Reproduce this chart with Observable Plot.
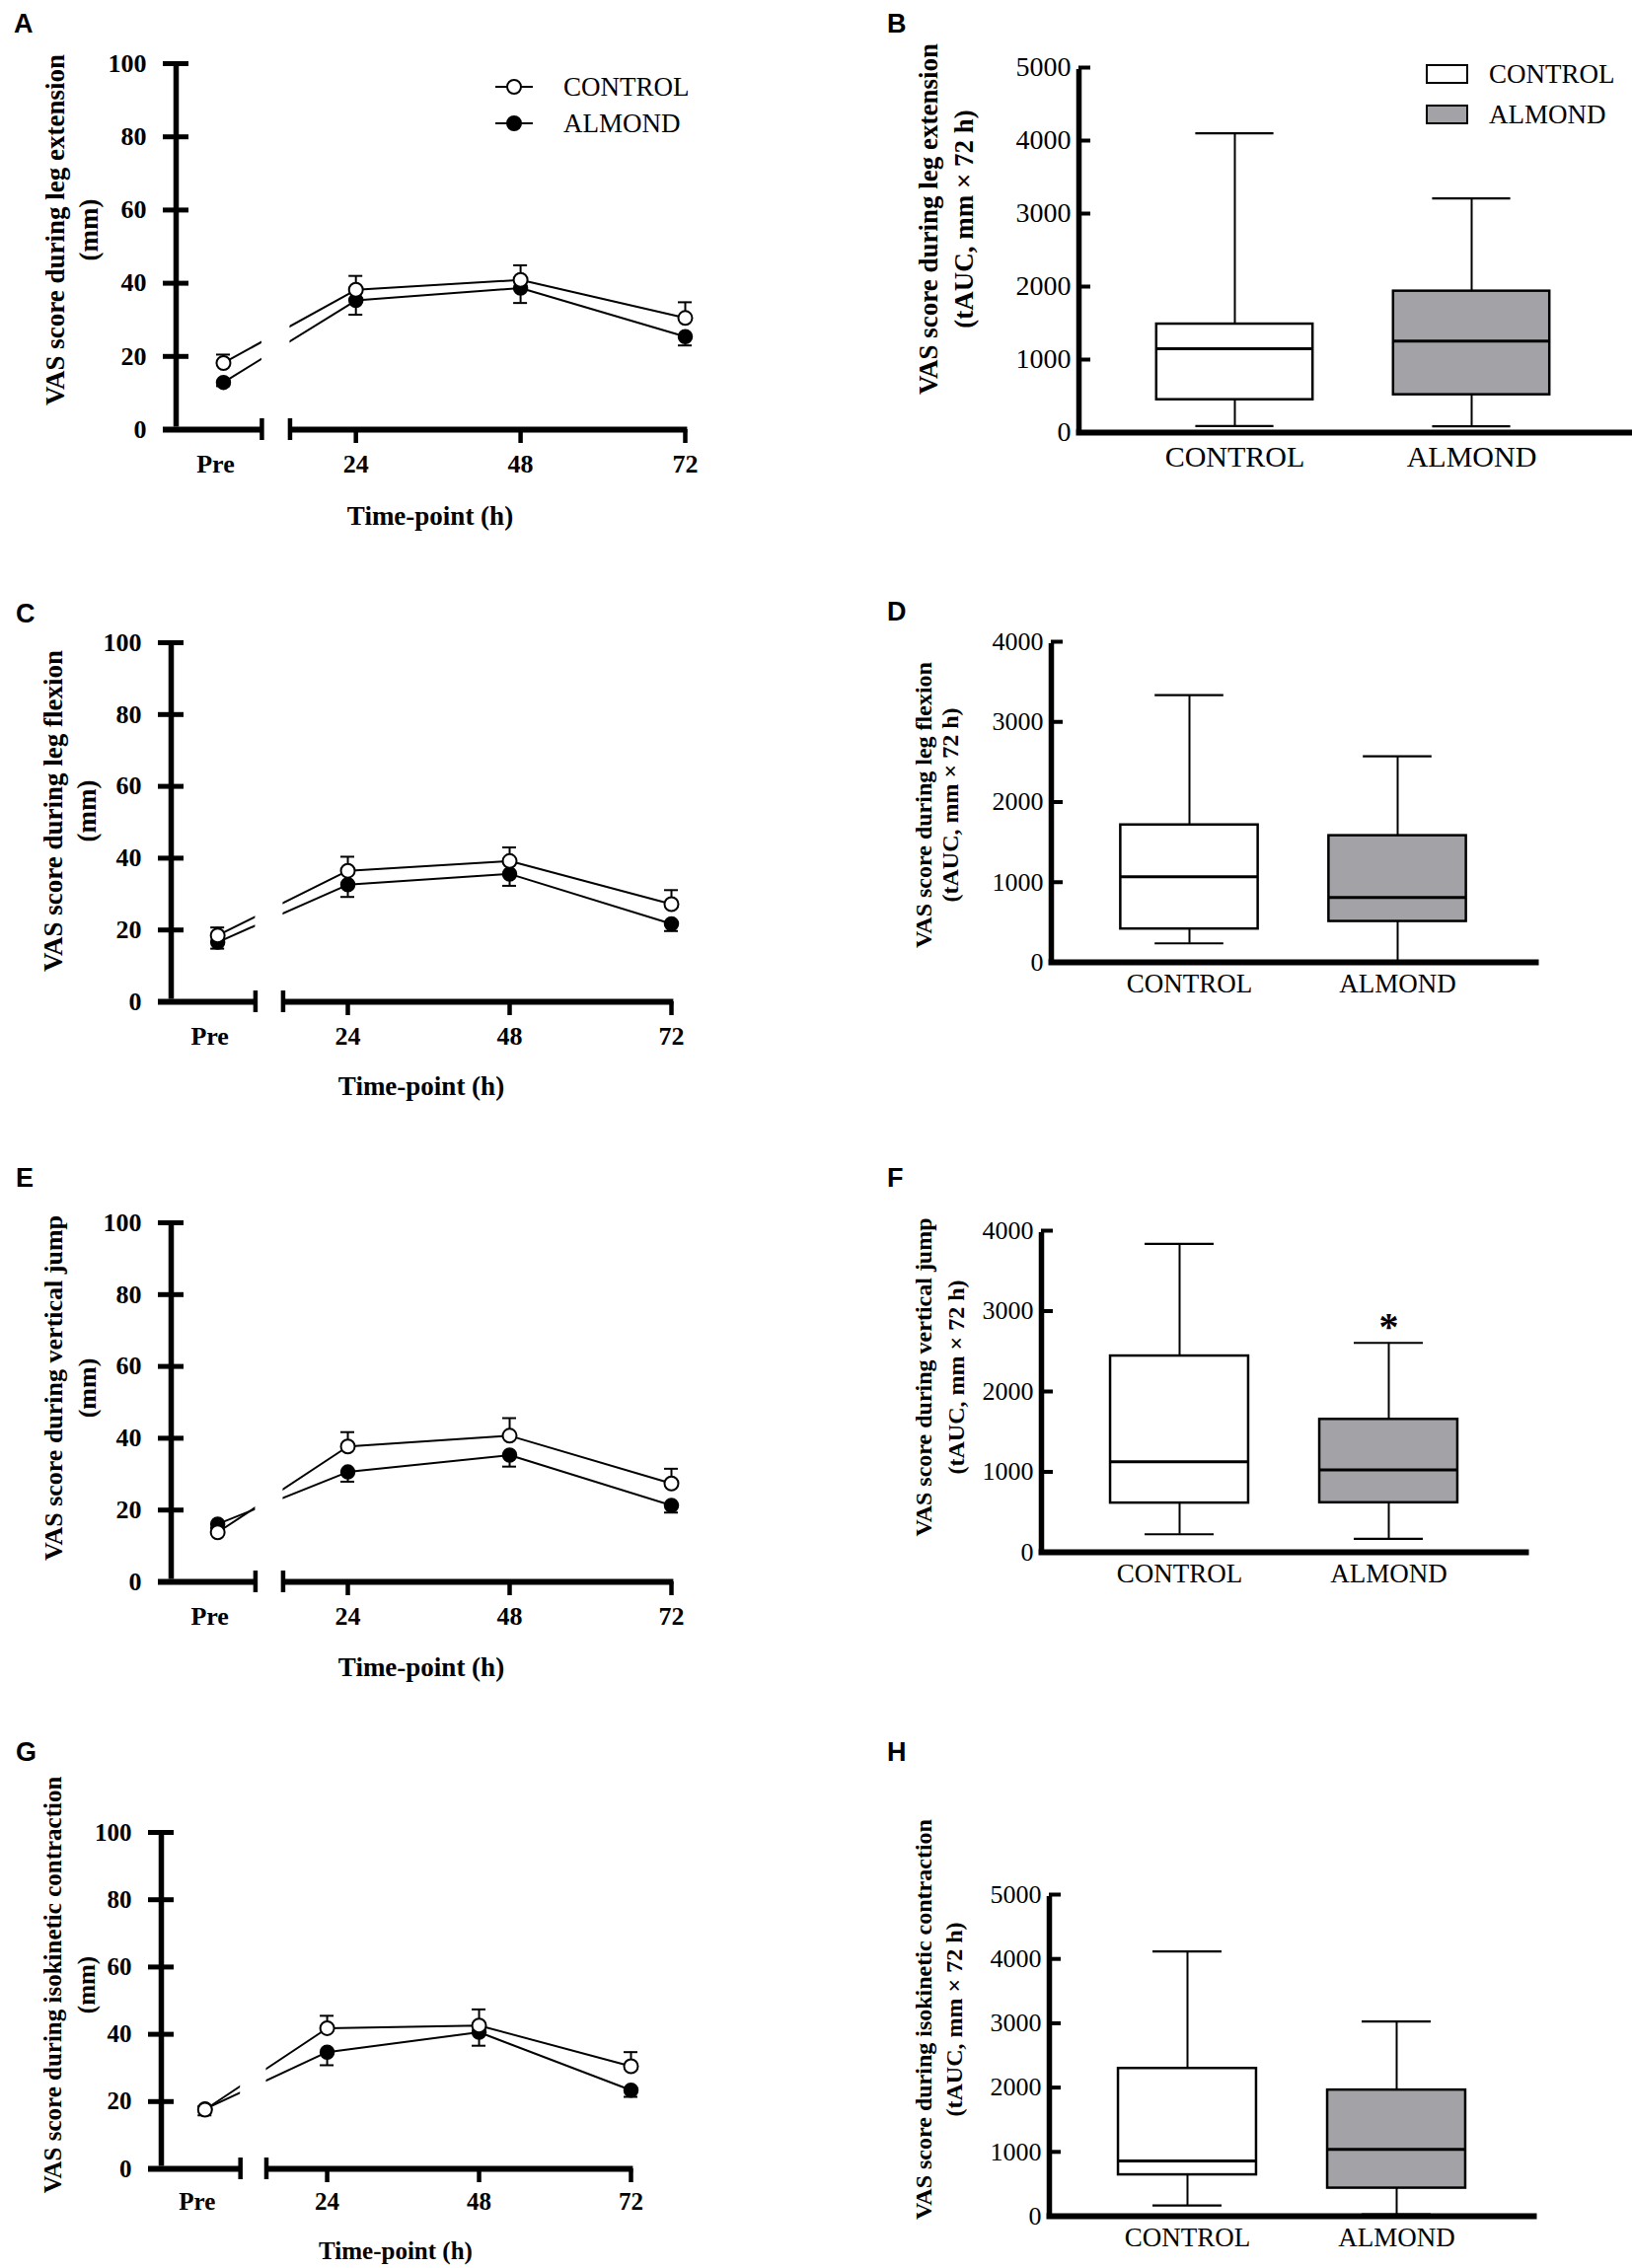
<!DOCTYPE html>
<html><head><meta charset="utf-8">
<script src="https://cdn.jsdelivr.net/npm/d3@7"></script>
<script src="https://cdn.jsdelivr.net/npm/@observablehq/plot@0.6"></script>
<style>
body{margin:0;background:#fff;}
#fig{position:relative;width:1654px;height:2299px;background:#fff;overflow:hidden;}
.panel{position:absolute;}
#overlay{position:absolute;left:0;top:0;pointer-events:none;}
</style></head><body><div id="fig"></div>
<script>
// ---------------- data ----------------
const timepoints = ["Pre", "24", "48", "72"];
const groups = ["CONTROL", "ALMOND"];
const lineYTicks = [0, 20, 40, 60, 80, 100];

// A: leg extension (mean, SEM)
const aControlMean = [18.2, 38.2, 40.9, 30.5];
const aControlErr  = [2.3, 3.8, 4.0, 4.3];
const aAlmondMean  = [12.9, 35.3, 38.7, 25.4];
const aAlmondErr   = [1.0, 3.9, 4.1, 2.4];
// C: leg flexion
const cControlMean = [18.5, 36.5, 39.2, 27.2];
const cControlErr  = [2.2, 3.9, 3.8, 3.9];
const cAlmondMean  = [16.6, 32.6, 35.6, 21.7];
const cAlmondErr   = [1.8, 3.4, 3.3, 2.0];
// E: vertical jump
const eControlMean = [13.8, 37.7, 40.7, 27.4];
const eControlErr  = [1.2, 4.0, 4.9, 4.1];
const eAlmondMean  = [16.1, 30.6, 35.3, 21.3];
const eAlmondErr   = [1.0, 2.7, 3.2, 2.0];
// G: isokinetic contraction
const gControlMean = [17.6, 41.8, 42.6, 30.5];
const gControlErr  = [1.0, 3.7, 4.8, 4.2];
const gAlmondMean  = [17.8, 34.7, 40.6, 23.4];
const gAlmondErr   = [1.9, 3.9, 4.0, 2.0];

// tAUC box plots: [min, Q1, median, Q3, max]
const bControl = [90, 450, 1149, 1486, 4099];
const bAlmond  = [86, 518, 1252, 1937, 3207];
const dControl = [237, 416, 1069, 1714, 3335];
const dAlmond  = [10, 510, 808, 1580, 2571];
const fControl = [224, 612, 1127, 2441, 3837];
const fAlmond  = [167, 616, 1024, 1653, 2604];
const hControl = [168, 643, 858, 2297, 4117];
const hAlmond  = [30, 436, 1041, 1961, 3028];
const ticks5000 = [0, 1000, 2000, 3000, 4000, 5000];
const ticks4000 = [0, 1000, 2000, 3000, 4000];
const fSignificance = ["", "*"];
const fSignificanceY = [null, 2910];

// ---------------- drawing ----------------
const SERIF = "'Liberation Serif','Times New Roman',Times,serif";
const SANS = "'Liberation Sans',Arial,Helvetica,sans-serif";
const fig = document.getElementById("fig");

function place(node, left, top) {
  const d = document.createElement("div");
  d.className = "panel";
  d.style.left = left + "px"; d.style.top = top + "px";
  d.appendChild(node); fig.appendChild(d);
}

function linePanel(cfg) {
  const X_AXIS = -2.2, PRE_X = 4.7, BREAK = [10.3, 14.4];
  const tx = t => t === "Pre" ? PRE_X : +t;
  const mk = (m, e) => timepoints.map((t, i) => ({x: tx(t), m: m[i], e: e[i]}));
  const ctrl = mk(cfg.ctrlMean, cfg.ctrlErr);
  const alm = mk(cfg.almMean, cfg.almErr);
  const fs = cfg.fontSize;
  const lblStyle = {fontSize: fs, fontWeight: "bold", fontFamily: SERIF, fill: "black"};
  return Plot.plot({
    width: 760, height: cfg.height, margin: 0,
    x: {type: "linear", domain: [X_AXIS, 72], range: cfg.xRange, axis: null},
    y: {type: "linear", domain: [0, 100], range: [cfg.y0, cfg.y100], axis: null},
    style: {background: "transparent", overflow: "visible"},
    marks: [
      Plot.line(alm, {x: "x", y: "m", stroke: "black", strokeWidth: 2}),
      Plot.ruleX(alm, {x: "x", y1: "m", y2: d => d.m - d.e, strokeWidth: 2}),
      Plot.ruleY(alm, {y: d => d.m - d.e, x1: "x", x2: "x", insetLeft: -7, insetRight: -7, strokeWidth: 2}),
      Plot.line(ctrl, {x: "x", y: "m", stroke: "black", strokeWidth: 2}),
      Plot.ruleX(ctrl, {x: "x", y1: "m", y2: d => d.m + d.e, strokeWidth: 2}),
      Plot.ruleY(ctrl, {y: d => d.m + d.e, x1: "x", x2: "x", insetLeft: -7, insetRight: -7, strokeWidth: 2}),
      Plot.rect([BREAK], {x1: d => d[0], x2: d => d[1], y1: () => 0, y2: () => 100, fill: "white"}),
      Plot.dot(alm, {x: "x", y: "m", r: 7, fill: "black", stroke: "black", strokeWidth: 1.5}),
      Plot.dot(ctrl, {x: "x", y: "m", r: 7, fill: "white", stroke: "black", strokeWidth: 2}),
      // axes
      Plot.ruleX([X_AXIS], {x: d => d, y1: () => 0, y2: () => 100, strokeWidth: 5.5, insetTop: -2.5, insetBottom: -2.5}),
      Plot.ruleY(lineYTicks, {y: d => d, x1: () => X_AXIS, x2: () => X_AXIS, insetLeft: -13, insetRight: -13, strokeWidth: 5}),
      Plot.ruleY([0], {y: d => d, x1: () => X_AXIS, x2: () => BREAK[0], insetLeft: -6.5, insetRight: -6.5, dx: -6.5, strokeWidth: 6}),
      Plot.ruleY([0], {y: d => d, x1: () => BREAK[1], x2: () => 72, insetLeft: -1.2, insetRight: -1.2, dx: 1.2, strokeWidth: 6}),
      Plot.ruleX(BREAK, {x: d => d, y1: () => 0, y2: () => 0, insetTop: -11, insetBottom: -11, strokeWidth: 4.5}),
      Plot.ruleX([24, 48, 72], {x: d => d, y1: () => 0, y2: () => 0, insetTop: -7, insetBottom: -7, dy: 7, strokeWidth: 4.5}),
      Plot.text(lineYTicks, {x: () => X_AXIS, y: d => d, text: d => String(d), dx: -30, textAnchor: "end", ...lblStyle}),
      Plot.text(timepoints.filter(t => t === "Pre"), {x: tx, y: () => 0, text: d => d, dy: cfg.labelDy, dx: -8, ...lblStyle}),
      Plot.text(timepoints.filter(t => t !== "Pre"), {x: tx, y: () => 0, text: d => d, dy: cfg.labelDy, ...lblStyle})
    ]
  });
}

function boxPanel(cfg) {
  const toX = px => 1 + (px - cfg.c1) / cfg.step;
  const lo = toX(cfg.axisX), hi = toX(cfg.xEnd);
  const BOX = 0.33, CAP = 0.165;
  const rows = [cfg.control, cfg.almond].map((v, i) => ({
    g: groups[i], i: i + 1, min: v[0], q1: v[1], med: v[2], q3: v[3], max: v[4],
    fill: i ? "#a3a3a7" : "white",
    star: cfg.star ? cfg.star[i] : "", starY: cfg.starY ? cfg.starY[i] : null
  }));
  const marks = [
    Plot.ruleX(rows, {x: "i", y1: "min", y2: "q1", strokeWidth: 2}),
    Plot.ruleX(rows, {x: "i", y1: "q3", y2: "max", strokeWidth: 2}),
    Plot.ruleY(rows, {y: "min", x1: d => d.i - CAP, x2: d => d.i + CAP, strokeWidth: 2.2}),
    Plot.ruleY(rows, {y: "max", x1: d => d.i - CAP, x2: d => d.i + CAP, strokeWidth: 2.2}),
    Plot.rect(rows, {x1: d => d.i - BOX, x2: d => d.i + BOX, y1: "q1", y2: "q3", fill: "fill", stroke: "black", strokeWidth: 2.5}),
    Plot.ruleY(rows, {y: "med", x1: d => d.i - BOX, x2: d => d.i + BOX, strokeWidth: 3}),
    Plot.ruleY([0], {y: d => d, x1: () => lo, x2: () => hi, insetLeft: -2.5, insetRight: -2.5, strokeWidth: 6}),
    Plot.ruleX([lo], {x: d => d, y1: () => 0, y2: () => cfg.yMax, insetTop: -2, insetBottom: -2, strokeWidth: 5.5}),
    Plot.ruleY(cfg.ticks, {y: d => d, x1: () => lo, x2: () => lo, insetLeft: -6, insetRight: -6, dx: 6, strokeWidth: 4}),
    Plot.text(cfg.ticks, {x: () => lo, y: d => d, text: d => String(d), dx: -8, textAnchor: "end",
      fontSize: cfg.tickFont, fontFamily: SERIF, fill: "black"}),
    Plot.text(rows, {x: "i", y: () => 0, text: "g", dy: cfg.labelDy, fontSize: cfg.labelFont, fontFamily: SERIF, fill: "black"})
  ];
  if (cfg.star) marks.push(Plot.text(rows.filter(r => r.star), {x: "i", y: "starY", text: "star", dy: 9,
    fontSize: 40, fontWeight: "bold", fontFamily: SERIF, fill: "black"}));
  return Plot.plot({
    width: 794, height: cfg.height, margin: 0,
    x: {type: "linear", domain: [lo, hi], range: [cfg.axisX, cfg.xEnd], axis: null},
    y: {type: "linear", domain: [0, cfg.yMax], range: [cfg.y0, cfg.yTop], axis: null},
    color: {type: "identity"},
    style: {background: "transparent", overflow: "visible"},
    marks
  });
}

// line panels (left column)
place(linePanel({ctrlMean: aControlMean, ctrlErr: aControlErr, almMean: aAlmondMean, almErr: aAlmondErr,
  height: 580, xRange: [178, 694], y0: 435, y100: 64, fontSize: 26, labelDy: 35}), 0, 0);
place(linePanel({ctrlMean: cControlMean, ctrlErr: cControlErr, almMean: cAlmondMean, almErr: cAlmondErr,
  height: 590, xRange: [173, 680], y0: 435, y100: 71, fontSize: 26, labelDy: 35}), 0, 580);
place(linePanel({ctrlMean: eControlMean, ctrlErr: eControlErr, almMean: eAlmondMean, almErr: eAlmondErr,
  height: 590, xRange: [173, 680], y0: 433, y100: 69, fontSize: 26, labelDy: 35}), 0, 1170);
place(linePanel({ctrlMean: gControlMean, ctrlErr: gControlErr, almMean: gAlmondMean, almErr: gAlmondErr,
  height: 539, xRange: [163, 639], y0: 438, y100: 97, fontSize: 25, labelDy: 33}), 0, 1760);

// box panels (right column)
place(boxPanel({control: bControl, almond: bAlmond, ticks: ticks5000, yMax: 5000, height: 580,
  axisX: 233, c1: 391, step: 240, xEnd: 794, y0: 438, yTop: 68, tickFont: 28, labelFont: 30, labelDy: 25}), 860, 0);
place(boxPanel({control: dControl, almond: dAlmond, ticks: ticks4000, yMax: 4000, height: 590,
  axisX: 205, c1: 345, step: 211, xEnd: 697, y0: 395, yTop: 70, tickFont: 26, labelFont: 27, labelDy: 22}), 860, 580);
place(boxPanel({control: fControl, almond: fAlmond, ticks: ticks4000, yMax: 4000, height: 590,
  axisX: 195, c1: 335, step: 212, xEnd: 687, y0: 403, yTop: 77, tickFont: 26, labelFont: 27, labelDy: 22,
  star: fSignificance, starY: fSignificanceY}), 860, 1170);
place(boxPanel({control: hControl, almond: hAlmond, ticks: ticks5000, yMax: 5000, height: 539,
  axisX: 203, c1: 343, step: 212, xEnd: 695, y0: 486, yTop: 160, tickFont: 26, labelFont: 27, labelDy: 22}), 860, 1760);

// ---------------- overlay: letters, titles, legends ----------------
const ov = d3.select(fig).append("svg").attr("id", "overlay").attr("width", 1654).attr("height", 2299);

const letters = [["A", 14, 33], ["B", 899, 33], ["C", 16, 631], ["D", 899, 629],
                 ["E", 16, 1203], ["F", 899, 1203], ["G", 16, 1785], ["H", 899, 1785]];
ov.selectAll("text.letter").data(letters).join("text").attr("class", "letter")
  .attr("x", d => d[1]).attr("y", d => d[2]).text(d => d[0])
  .attr("font-family", SANS).attr("font-weight", "bold").attr("font-size", 27);

function vtitle(lines, xs, cy, size) {
  lines.forEach((t, k) => {
    ov.append("text").attr("transform", `translate(${xs[k]},${cy}) rotate(-90)`)
      .attr("text-anchor", "middle").attr("dominant-baseline", "central")
      .attr("font-family", SERIF).attr("font-weight", "bold").attr("font-size", size).text(t);
  });
}
function htitle(t, cx, cy, size) {
  ov.append("text").attr("x", cx).attr("y", cy).attr("text-anchor", "middle").attr("dominant-baseline", "central")
    .attr("font-family", SERIF).attr("font-weight", "bold").attr("font-size", size).text(t);
}
vtitle(["VAS score during leg extension", "(mm)"], [56, 90], 233, 27);
vtitle(["VAS score during leg flexion", "(mm)"], [54, 88], 580 + 242, 27);
vtitle(["VAS score during vertical jump", "(mm)"], [54, 88], 1170 + 237, 26);
vtitle(["VAS score during isokinetic contraction", "(mm)"], [53, 87], 1760 + 252, 25);
vtitle(["VAS score during leg extension", "(tAUC, mm × 72 h)"], [941, 977], 222, 27);
vtitle(["VAS score during leg flexion", "(tAUC, mm × 72 h)"], [936, 963], 580 + 236, 24);
vtitle(["VAS score during vertical jump", "(tAUC, mm × 72 h)"], [936, 969], 1170 + 226, 24);
vtitle(["VAS score during isokinetic contraction", "(tAUC, mm × 72 h)"], [936, 967], 1760 + 287, 24);
htitle("Time-point (h)", 436, 523, 27);
htitle("Time-point (h)", 427, 580 + 521, 27);
htitle("Time-point (h)", 427, 1170 + 520, 27);
htitle("Time-point (h)", 401, 1760 + 521, 25);

// legend A (line symbols)
groups.forEach((g, k) => {
  const y = [88, 125][k];
  ov.append("line").attr("x1", 502).attr("x2", 540).attr("y1", y).attr("y2", y).attr("stroke", "black").attr("stroke-width", 2);
  ov.append("circle").attr("cx", 521).attr("cy", y).attr("r", 7).attr("fill", k ? "black" : "white").attr("stroke", "black").attr("stroke-width", 2);
  ov.append("text").attr("x", 571).attr("y", y).attr("dominant-baseline", "central")
    .attr("font-family", SERIF).attr("font-size", 27).text(g);
});
// legend B (boxes)
groups.forEach((g, k) => {
  const y = [75, 116][k];
  ov.append("rect").attr("x", 1446).attr("y", y - 9).attr("width", 41).attr("height", 18)
    .attr("fill", k ? "#a3a3a7" : "white").attr("stroke", "black").attr("stroke-width", 2);
  ov.append("text").attr("x", 1509).attr("y", y).attr("dominant-baseline", "central")
    .attr("font-family", SERIF).attr("font-size", 27).text(g);
});
</script></body></html>
